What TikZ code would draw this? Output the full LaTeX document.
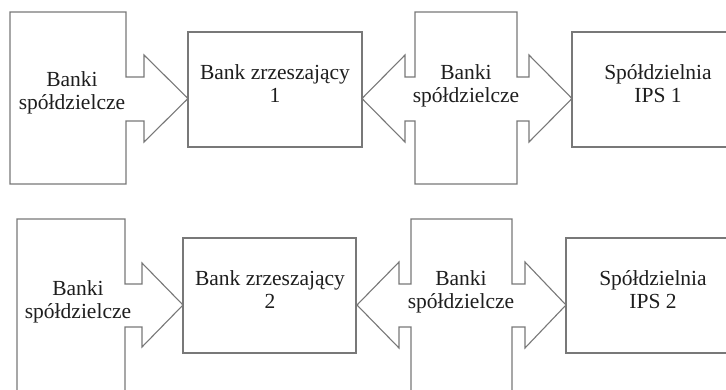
\documentclass[tikz,border=0pt]{standalone}
\usepackage{fontspec}
\setmainfont{Liberation Serif}
\definecolor{edgegray}{RGB}{120,120,120}
\definecolor{textgray}{RGB}{30,30,30}
\tikzset{
  shapeline/.style={draw=edgegray, line width=1.1pt, line join=miter, fill=white},
  lbl/.style={inner sep=0pt, anchor=north, align=center, text=textgray,
    font=\fontsize{21.5}{23}\selectfont}
}
\begin{document}
\begin{tikzpicture}[x=1pt,y=-1pt]
\useasboundingbox (0,0) rectangle (726,389);
\clip (0,0) rectangle (726,389);
\fill[white] (0,0) rectangle (726,389);
% ---------- top row ----------
\draw[shapeline] (10,12) -- (126,12) -- (126,77) -- (144,77) -- (144,55) -- (188,98.5)
  -- (144,142) -- (144,121) -- (126,121) -- (126,184) -- (10,184) -- cycle;
\draw[shapeline] (188,32) rectangle (362,147);
\draw[shapeline] (415,12) -- (517,12) -- (517,77) -- (529,77) -- (529,55) -- (572,98.5)
  -- (529,142) -- (529,121) -- (517,121) -- (517,184) -- (415,184) -- (415,121)
  -- (405,121) -- (405,142) -- (362,98.5) -- (405,55) -- (405,77) -- (415,77) -- cycle;
\draw[shapeline] (572,32) rectangle (760,147);
\node[lbl] (l1) at (72,71.5) {Banki\\spółdzielcze};
\node[lbl] (b1) at (275,64.5) {Bank zrzeszający\\1};
\node[lbl] (d1) at (466,64.5) {Banki\\spółdzielcze};
\node[lbl] (s1) at (658,64.5) {Spółdzielnia\\IPS 1};
% ---------- bottom row ----------
\draw[shapeline] (17,219) -- (125,219) -- (125,284) -- (142,284) -- (142,263) -- (183,305)
  -- (142,347) -- (142,327) -- (125,327) -- (125,420) -- (17,420) -- cycle;
\draw[shapeline] (183,238) rectangle (356,353);
\draw[shapeline] (411,219) -- (512,219) -- (512,284) -- (525,284) -- (525,262) -- (566,305)
  -- (525,348) -- (525,327) -- (512,327) -- (512,420) -- (411,420) -- (411,327)
  -- (399,327) -- (399,348) -- (357,305) -- (399,262) -- (399,284) -- (411,284) -- cycle;
\draw[shapeline] (566,238) rectangle (760,353);
\node[lbl] (l2) at (78,280) {Banki\\spółdzielcze};
\node[lbl] (b2) at (270,270.5) {Bank zrzeszający\\2};
\node[lbl] (d2) at (461,270.5) {Banki\\spółdzielcze};
\node[lbl] (s2) at (653,270.5) {Spółdzielnia\\IPS 2};
\end{tikzpicture}
\end{document}
